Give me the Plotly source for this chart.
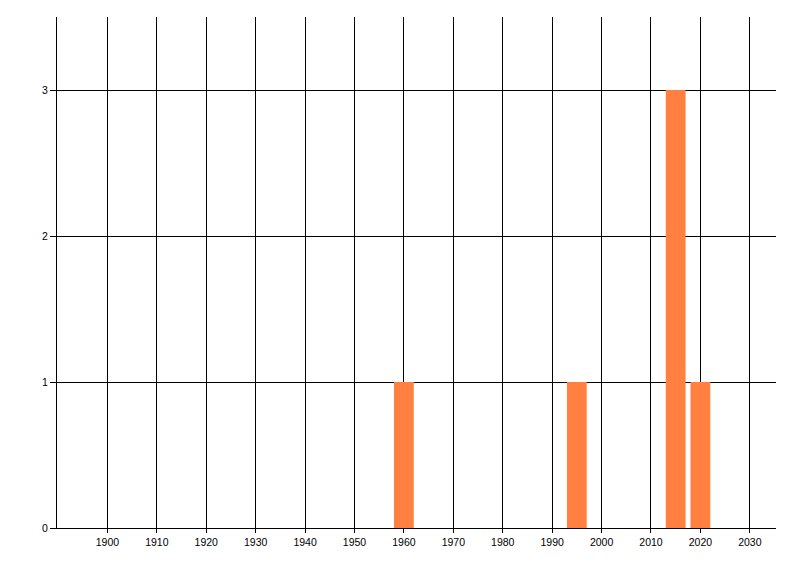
import plotly.graph_objects as go

years = [1960, 1995, 2015, 2020]
counts = [1, 1, 3, 1]
x_ticks = list(range(1900, 2031, 10))
y_ticks = [0, 1, 2, 3]

fig = go.Figure()
fig.add_trace(go.Bar(x=years, y=counts, width=4, marker=dict(color="#FF8040", line=dict(width=0))))

# page body has an 8px default margin, so the figure is sized/offset to compensate
fig.update_layout(
    width=792, height=568,
    margin=dict(l=49, r=24, t=9, b=48),
    paper_bgcolor="white", plot_bgcolor="white",
    showlegend=False,
    font=dict(family="Liberation Sans", size=10.5, color="#000000"),
)
fig.update_xaxes(
    range=[1889.8, 2035.3],
    tickvals=x_ticks, ticktext=[str(v) for v in x_ticks],
    showgrid=True, gridcolor="black", gridwidth=1,
    showline=True, linecolor="black", linewidth=1,
    ticks="outside", ticklen=4, tickcolor="black",
    zeroline=False,
)
fig.update_yaxes(
    range=[0, 3.5],
    tickvals=y_ticks,
    showgrid=True, gridcolor="black", gridwidth=1,
    showline=True, linecolor="black", linewidth=1,
    ticks="outside", ticklen=6, tickcolor="black",
    zeroline=False,
)
fig.write_html("out.html")
